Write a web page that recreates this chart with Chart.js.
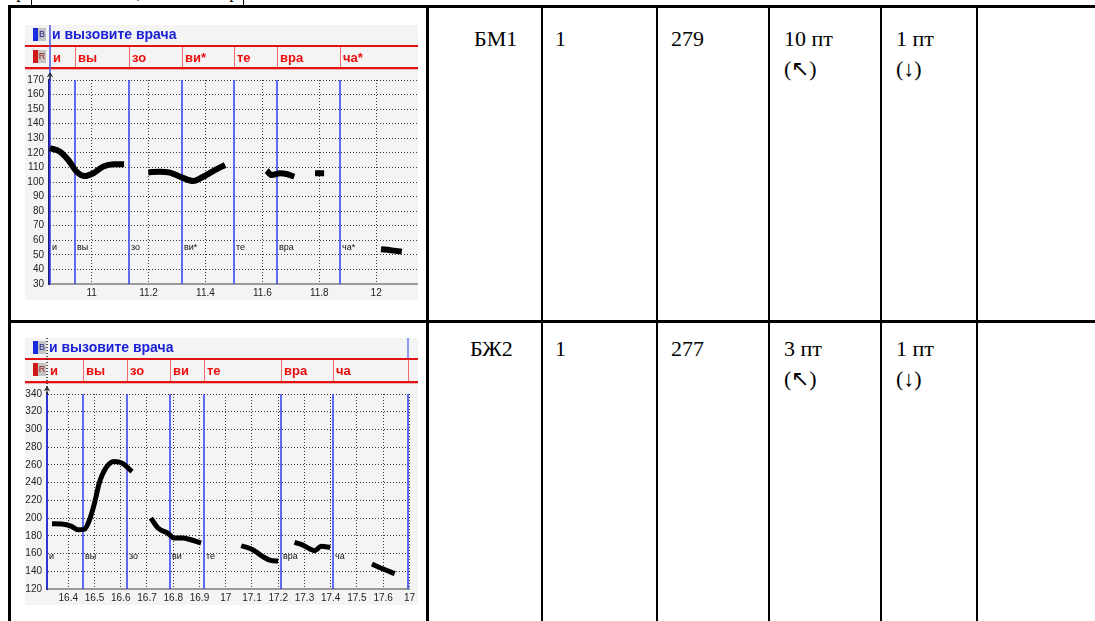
<!DOCTYPE html>
<html>
<head>
<meta charset="utf-8">
<script src="https://cdn.jsdelivr.net/npm/chart.js@4.4.1/dist/chart.umd.min.js"></script>
<style>
  body { margin: 0; background: #fff; }
  #page { position: relative; width: 1095px; height: 621px; overflow: hidden;
          font-family: "Liberation Serif", "Times New Roman", serif; }
  .ln { position: absolute; background: #000; }
  .cell { position: absolute; font-size: 22px; line-height: 30px; color: #000; white-space: nowrap; }
  .panel { position: absolute; left: 25px; }
  .cut { position: absolute; left: 2px; top: -18px; font-size: 18px; color: #000; }
</style>
</head>
<body>
<div id="page">
  <div class="cut">Фраза «Помогите, вызовите врача»</div>
  <div class="ln" style="left:31px;top:0;width:1px;height:6px"></div>
  <div class="ln" style="left:243px;top:0;width:1px;height:6px"></div>

  <!-- table grid -->
  <div class="ln" style="left:8px;top:5px;width:1087px;height:3px"></div>
  <div class="ln" style="left:8px;top:320px;width:1087px;height:3px"></div>
  <div class="ln" style="left:8px;top:5px;width:3px;height:616px"></div>
  <div class="ln" style="left:426px;top:5px;width:3px;height:616px"></div>
  <div class="ln" style="left:541px;top:5px;width:2px;height:616px"></div>
  <div class="ln" style="left:656px;top:5px;width:2px;height:616px"></div>
  <div class="ln" style="left:768px;top:5px;width:2px;height:616px"></div>
  <div class="ln" style="left:880px;top:5px;width:2px;height:616px"></div>
  <div class="ln" style="left:976px;top:5px;width:2px;height:616px"></div>

  <!-- row 1 -->
  <div class="cell" style="left:474px;top:24px">БМ1</div>
  <div class="cell" style="left:555px;top:24px">1</div>
  <div class="cell" style="left:671px;top:24px">279</div>
  <div class="cell" style="left:784px;top:24px">10 пт<br>(↖)</div>
  <div class="cell" style="left:896px;top:24px">1 пт<br>(↓)</div>

  <!-- row 2 -->
  <div class="cell" style="left:470px;top:334px">БЖ2</div>
  <div class="cell" style="left:555px;top:334px">1</div>
  <div class="cell" style="left:671px;top:334px">277</div>
  <div class="cell" style="left:784px;top:334px">3 пт<br>(↖)</div>
  <div class="cell" style="left:896px;top:334px">1 пт<br>(↓)</div>

  <div class="panel" style="top:25px"><canvas id="c1" width="393" height="275"></canvas></div>
  <div class="panel" style="top:338px"><canvas id="c2" width="393" height="267"></canvas></div>
</div>

<script>
// ---- speaker 1 (БМ1) ----
const phrase = 'и вызовите врача';
const syllables1 = ['и', 'вы', 'зо', 'ви*', 'те', 'вра', 'ча*'];
const bounds1 = [10.853, 10.942, 11.130, 11.318, 11.499, 11.651, 11.873];
const xTicks1 = [11, 11.2, 11.4, 11.6, 11.8, 12];
const xTickLabels1 = ['11', '11.2', '11.4', '11.6', '11.8', '12'];
const yTicks1 = [30, 40, 50, 60, 70, 80, 90, 100, 110, 120, 130, 140, 150, 160, 170];
// pitch contour, null = unvoiced gap
const f0Time1 = [10.853, 10.889, 10.918, 10.947, 10.976, 11.006, 11.041, 11.076, 11.114,
                 11.15,
                 11.199, 11.240, 11.275, 11.316, 11.357, 11.392, 11.433, 11.469,
                 11.55,
                 11.615, 11.633, 11.662, 11.685, 11.712,
                 11.75,
                 11.785, 11.817,
                 11.9,
                 12.017, 12.05, 12.090];
const f0Hz1 = [123.3, 120.8, 115.1, 107.1, 104.1, 106, 110.6, 112.2, 112.2,
               null,
               106.6, 107.1, 106.4, 103.2, 100.7, 103.6, 108.2, 111.7,
               null,
               107.8, 104.8, 106, 105.5, 103.6,
               null,
               106, 106,
               null,
               53.8, 53.2, 52.2];

// ---- speaker 2 (БЖ2) ----
const syllables2 = ['и', 'вы', 'зо', 'ви', 'те', 'вра', 'ча'];
const bounds2 = [16.319, 16.456, 16.622, 16.786, 16.919, 17.209, 17.407, 17.694];
const xTicks2 = [16.4, 16.5, 16.6, 16.7, 16.8, 16.9, 17, 17.1, 17.2, 17.3, 17.4, 17.5, 17.6, 17.7];
const xTickLabels2 = ['16.4', '16.5', '16.6', '16.7', '16.8', '16.9', '17', '17.1', '17.2', '17.3', '17.4', '17.5', '17.6', '17'];
const yTicks2 = [120, 140, 160, 180, 200, 220, 240, 260, 280, 300, 320, 340];
const f0Time2 = [16.338, 16.375, 16.413, 16.437, 16.462, 16.481, 16.5, 16.518, 16.543, 16.574, 16.605, 16.643,
                 16.68,
                 16.715, 16.742, 16.779, 16.804, 16.835, 16.866, 16.906,
                 17.0,
                 17.059, 17.103, 17.140, 17.171, 17.2,
                 17.23,
                 17.262, 17.290, 17.321, 17.339, 17.364, 17.398,
                 17.48,
                 17.557, 17.6, 17.644];
const f0Hz2 = [193.6, 193.3, 190.6, 186.8, 187.6, 198.1, 217, 239.4, 256.3, 263.8, 262, 252.5,
               null,
               200, 188.8, 183.1, 177.5, 177.5, 175.6, 171.9,
               null,
               168.8, 164.3, 156.8, 152.3, 151.6,
               null,
               172.5, 170, 165.1, 163.2, 168.1, 166.9,
               null,
               148.2, 142.6, 137.3];

const tickFont = { family: "'Liberation Sans Narrow', 'Liberation Sans', Arial, sans-serif", size: 10 };

function icon(ctx, x, y, bar, letter, fg) {
  ctx.fillStyle = bar;
  ctx.fillRect(x, y, 5, 13);
  ctx.fillStyle = '#c4c4c4';
  ctx.fillRect(x + 5, y, 8, 13);
  ctx.fillStyle = fg;
  ctx.font = '9px "Liberation Sans", sans-serif';
  ctx.textAlign = 'center';
  ctx.textBaseline = 'middle';
  ctx.fillText(letter, x + 9, y + 7);
  ctx.textAlign = 'left';
}

// draws the Praat-like header tiers, boundaries and syllable marks
const praatPlugin = {
  id: 'praat',
  beforeDraw(chart) {
    const ctx = chart.ctx;
    ctx.save();
    ctx.fillStyle = '#f4f4f4';
    ctx.fillRect(0, 0, chart.width, chart.height);
    ctx.restore();
  },
  beforeDatasetsDraw(chart, args, o) {
    const { ctx, chartArea: a, scales: { x, y } } = chart;
    ctx.save();
    ctx.strokeStyle = '#2f3cf2';
    ctx.lineWidth = 1.5;
    o.bounds.forEach(b => {
      const px = Math.round(x.getPixelForValue(b));
      ctx.beginPath();
      ctx.moveTo(px, a.top);
      ctx.lineTo(px, a.bottom);
      ctx.stroke();
    });
    ctx.fillStyle = '#111';
    ctx.font = '9px "Liberation Sans", sans-serif';
    ctx.textBaseline = 'middle';
    const ly = y.getPixelForValue(o.labelAt);
    o.labels.forEach((s, i) => ctx.fillText(s, Math.round(x.getPixelForValue(o.bounds[i])) + 2, ly));
    ctx.restore();
  },
  afterDraw(chart, args, o) {
    const { ctx, chartArea: a, scales: { x } } = chart;
    const w = chart.width;
    const x0 = Math.round(x.getPixelForValue(o.bounds[0]));
    ctx.save();
    // title tier
    icon(ctx, 8, 3, '#1a2ae0', 'B', '#1a1a90');
    ctx.fillStyle = '#1c22d6';
    ctx.font = 'bold 14px "Liberation Sans", Arial, sans-serif';
    ctx.textBaseline = 'middle';
    ctx.fillText(o.title, x0 + 2, 10);
    // syllable tier
    ctx.fillStyle = '#e01414';
    ctx.fillRect(0, 20, w, 2);
    ctx.fillRect(0, o.tierBottom, w, 2);
    ctx.fillStyle = '#f2b0b0';
    ctx.fillRect(0, o.tierBottom + 2, w, 1);
    ctx.strokeStyle = '#f06a6a';
    ctx.lineWidth = 1;
    o.bounds.forEach((b, i) => {
      if (i === 0) return;
      const px = Math.round(x.getPixelForValue(b)) + 0.5;
      ctx.beginPath();
      ctx.moveTo(px, 22);
      ctx.lineTo(px, o.tierBottom);
      ctx.stroke();
    });
    icon(ctx, 8, 25, '#d01818', 'R', '#901010');
    ctx.fillStyle = '#ec0c0c';
    ctx.font = 'bold 13px "Liberation Sans", Arial, sans-serif';
    o.labels.forEach((s, i) => ctx.fillText(s, Math.round(x.getPixelForValue(o.bounds[i])) + 3, (22 + o.tierBottom) / 2 + 1));
    // cursor through the tiers
    ctx.strokeStyle = o.cursorColor;
    ctx.lineWidth = 1.5;
    ctx.setLineDash(o.cursorDash);
    ctx.beginPath();
    ctx.moveTo(x0, 0);
    ctx.lineTo(x0, a.top);
    ctx.stroke();
    ctx.setLineDash([]);
    if (o.rightEdge) {
      const px = Math.round(x.getPixelForValue(o.bounds[o.bounds.length - 1]));
      ctx.strokeStyle = '#6a78f0';
      ctx.beginPath();
      ctx.moveTo(px, 0);
      ctx.lineTo(px, 20);
      ctx.stroke();
    }
    // axis arrow
    ctx.strokeStyle = '#111';
    ctx.lineWidth = 1;
    ctx.beginPath();
    ctx.moveTo(x0 - 2.5, a.top - 3);
    ctx.lineTo(x0, a.top - 7);
    ctx.lineTo(x0 + 2.5, a.top - 3);
    ctx.moveTo(x0, a.top - 7);
    ctx.lineTo(x0, a.top);
    ctx.stroke();
    ctx.restore();
  }
};

function pitchChart(id, p) {
  return new Chart(document.getElementById(id), {
    type: 'line',
    data: {
      datasets: [{
        data: p.time.map((t, i) => ({ x: t, y: p.hz[i] })),
        borderColor: '#000',
        borderWidth: p.lineWidth,
        pointRadius: 0,
        cubicInterpolationMode: 'monotone',
        spanGaps: false,
        borderCapStyle: 'butt'
      }]
    },
    options: {
      responsive: false,
      animation: false,
      events: [],
      layout: { padding: { top: p.top, left: 0, right: 0, bottom: 0 }, autoPadding: false },
      plugins: {
        legend: { display: false },
        tooltip: { enabled: false },
        praat: {
          title: phrase, labels: p.labels, bounds: p.bounds, labelAt: p.labelAt,
          tierBottom: p.tierBottom, cursorColor: p.cursorColor, cursorDash: p.cursorDash,
          rightEdge: p.rightEdge
        }
      },
      scales: {
        x: {
          type: 'linear', min: p.xMin, max: p.xMax,
          afterBuildTicks: s => { s.ticks = p.xTicks.map(v => ({ value: v })); },
          afterFit: s => { s.height = 16; },
          ticks: { callback: (v, i) => p.xLabels[i], font: tickFont, color: '#222', maxRotation: 0, autoSkip: false, padding: 3 },
          grid: { color: '#3a3a3a', lineWidth: 1, drawTicks: false },
          border: { display: true, color: '#9a9a9a', width: 2, dash: [1, 2] }
        },
        y: {
          min: p.yTicks[0], max: p.yTicks[p.yTicks.length - 1],
          afterBuildTicks: s => { s.ticks = p.yTicks.map(v => ({ value: v })); },
          afterFit: s => { s.width = p.yWidth; },
          ticks: { font: tickFont, color: '#222', padding: 5, autoSkip: false },
          grid: { color: '#3a3a3a', lineWidth: 1, drawTicks: false },
          border: { display: true, color: '#20206a', width: 2, dash: [1, 2] }
        }
      }
    },
    plugins: [praatPlugin]
  });
}

pitchChart('c1', {
  time: f0Time1, hz: f0Hz1, labels: syllables1, bounds: bounds1,
  xTicks: xTicks1, xLabels: xTickLabels1, yTicks: yTicks1,
  xMin: 10.85, xMax: 12.147, top: 55, yWidth: 24, tierBottom: 42,
  labelAt: 55, lineWidth: 6, cursorColor: '#4a58d8', cursorDash: [], rightEdge: false
});

pitchChart('c2', {
  time: f0Time2, hz: f0Hz2, labels: syllables2, bounds: bounds2,
  xTicks: xTicks2, xLabels: xTickLabels2, yTicks: yTicks2,
  xMin: 16.319, xMax: 17.70, top: 56, yWidth: 22, tierBottom: 43,
  labelAt: 157, lineWidth: 5, cursorColor: '#222', cursorDash: [1, 2], rightEdge: true
});
</script>
</body>
</html>
